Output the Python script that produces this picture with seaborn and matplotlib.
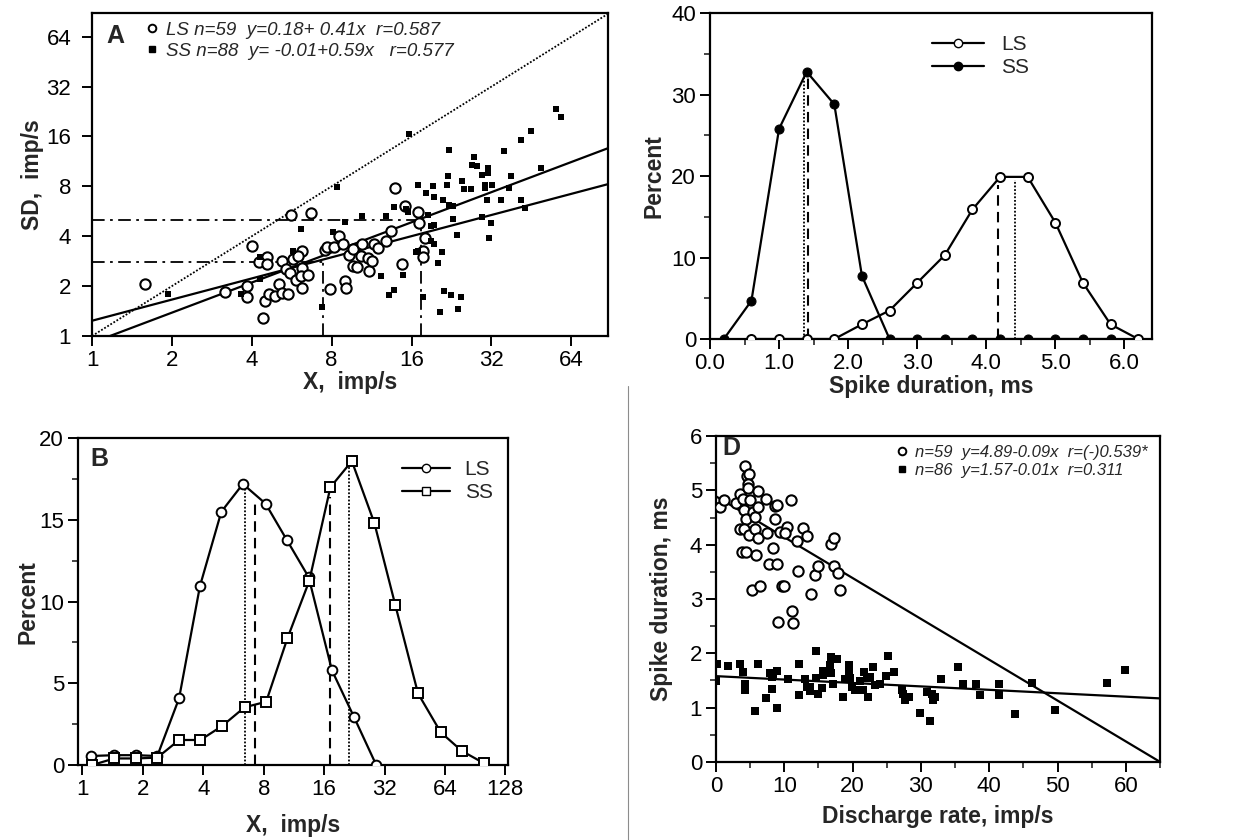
import numpy as np
import pandas as pd
import seaborn as sns
import matplotlib.pyplot as plt
from matplotlib.lines import Line2D
from matplotlib.ticker import FixedLocator, MultipleLocator, NullLocator, FormatStrFormatter

sns.set_theme(style='ticks')
plt.rcParams['font.family'] = ['Liberation Sans', 'DejaVu Sans']

# ---- panel A : SD vs mean rate (log2 / log2) ----
a_ls_x = [1.59, 3.17, 3.85, 3.83, 4.0, 4.4, 4.48, 4.63, 4.9, 4.55, 4.25, 4.55, 5.05, 5.22, 5.5,
          5.18, 5.4, 5.56, 5.7, 5.87, 5.6, 6.2, 6.2, 6.15, 6.5, 6.2, 6.7, 5.95, 7.86, 7.55,
          7.7, 8.2, 8.5, 8.8, 8.97, 9.1, 9.3, 9.65, 9.6, 10.0, 10.4, 10.3, 11.0, 11.1, 11.4,
          11.6, 12.0, 12.8, 13.4, 13.9, 14.7, 15.1, 16.9, 17.1, 18.0, 17.6, 17.6]
a_ls_sd = [2.06, 1.84, 2.0, 1.72, 3.48, 1.28, 1.62, 1.79, 1.74, 2.99, 2.79, 2.71, 2.06, 1.82, 1.79,
           2.83, 2.53, 2.39, 2.91, 2.17, 5.35, 3.25, 2.56, 2.3, 2.33, 1.94, 5.5, 3.03, 1.92, 3.29,
           3.43, 3.43, 4.0, 3.58, 2.14, 1.94, 3.07, 2.65, 3.34, 2.6, 3.58, 3.03, 2.95, 2.46, 2.83,
           3.58, 3.39, 3.74, 4.28, 7.8, 2.71, 6.06, 5.58, 4.8, 3.9, 3.25, 2.99]
a_ss_x = [1.93, 3.63, 4.29, 4.29, 6.15, 5.7, 7.35, 8.4, 8.1, 9.0, 10.4, 12.3, 12.8, 13.2, 13.8,
          13.8, 14.8, 15.3, 15.6, 22.1, 27.4, 27.0, 28.2, 31.0, 31.0, 29.6, 35.8, 41.3, 45.0, 56.0,
          58.5, 49.3, 37.9, 37.4, 41.3, 43.0, 34.8, 30.8, 29.6, 31.9, 31.4, 32.2, 30.2, 30.2, 26.9,
          25.3, 24.8, 21.7, 21.9, 19.2, 16.9, 18.2, 19.4, 21.0, 22.2, 23.0, 22.9, 23.7, 18.5, 19.0,
          19.4, 19.0, 19.4, 20.8, 20.1, 16.6, 16.9, 17.6, 21.2, 22.6, 24.6, 20.4, 24.0, 15.5]
a_ss_sd = [1.79, 1.79, 2.99, 2.2, 4.41, 3.25, 1.5, 7.9, 4.23, 4.85, 5.27, 2.3, 5.27, 1.77, 1.89,
           5.97, 2.33, 5.82, 16.5, 13.2, 12.0, 10.7, 10.6, 10.3, 9.6, 9.4, 13.0, 15.3, 17.3, 23.6,
           21.1, 10.3, 9.2, 7.8, 6.6, 5.9, 6.6, 6.6, 5.2, 4.8, 3.9, 8.2, 8.2, 7.8, 7.7,
           7.7, 8.6, 8.2, 9.2, 8.0, 8.1, 7.3, 6.9, 6.6, 6.2, 6.1, 5.06, 4.06, 5.35, 4.6,
           4.65, 3.74, 3.58, 3.2, 2.75, 3.2, 3.25, 1.72, 1.87, 1.77, 1.72, 1.39, 1.45, 5.6]
# fitted lines as drawn (log2 SD = b0 + b1 * log2 X)
a_ls_fit = (0.306, 0.424)
a_ss_fit = (-0.136, 0.604)
a_means_x = [7.4, 17.4]
a_means_sd = [2.8, 5.0]
a_ticks = [1, 2, 4, 8, 16, 32, 64]
a_lim = (1, 88)

# ---- panel B : rate distributions ----
b_ls_x = [1.1, 1.44, 1.84, 2.36, 3.03, 3.85, 4.92, 6.3, 8.17, 10.4, 13.4, 17.5, 22.5, 29.1]
b_ls_pct = [0.55, 0.6, 0.6, 0.55, 4.08, 10.95, 15.5, 17.2, 16.0, 13.8, 11.5, 5.8, 2.96, 0.0]
b_ss_x = [1.12, 1.44, 1.84, 2.36, 3.03, 3.87, 4.97, 6.42, 8.23, 10.5, 13.5, 17.2, 22.0, 28.5,
          36.2, 47.0, 61.0, 77.7, 100.4]
b_ss_pct = [0.0, 0.4, 0.4, 0.45, 1.53, 1.53, 2.39, 3.53, 3.87, 7.75, 11.27, 17.0, 18.6, 14.8,
            9.8, 4.38, 2.0, 0.86, 0.1]
b_mode_x = [6.44, 21.2]
b_mode_top = [17.2, 18.7]
b_mean_x = [7.22, 17.2]
b_mean_top = [16.1, 16.4]
b_ticks = [1, 2, 4, 8, 16, 32, 64, 128]

# ---- panel C : spike duration distributions ----
c_ls_x = [0.6, 1.0, 1.4, 1.8, 2.2, 2.6, 3.0, 3.4, 3.8, 4.2, 4.6, 5.0, 5.4, 5.8, 6.2]
c_ls_pct = [0, 0, 0, 0, 1.8, 3.5, 6.9, 10.3, 15.9, 19.9, 19.9, 14.3, 6.9, 1.8, 0]
c_ss_x = [0.2, 0.6, 1.0, 1.4, 1.8, 2.2, 2.6, 3.0, 3.4, 3.8, 4.2, 4.6, 5.0, 5.4, 5.8]
c_ss_pct = [0, 4.7, 25.8, 32.8, 28.8, 7.75, 0, 0, 0, 0, 0, 0, 0, 0, 0]
c_mode_x = [1.36, 4.41]
c_mode_top = [32.5, 19.5]
c_mean_x = [1.42, 4.17]
c_mean_top = [32.5, 18.9]

# ---- panel D : spike duration vs discharge rate ----
d_ls_rate = [0.6, 1.2, 3.0, 3.5, 4.2, 4.5, 4.9, 4.7, 4.7, 4.0, 5.0, 4.1, 4.4, 3.5, 4.1, 4.9, 5.7,
             5.4, 5.7, 6.1, 6.1, 6.2, 7.3, 7.5, 5.9, 3.8, 4.4, 8.3, 8.6, 8.9, 8.6, 7.7, 8.9, 9.4,
             10.4, 10.1, 11.0, 11.8, 12.8, 13.3, 12.0, 5.3, 6.5, 9.6, 9.9, 14.5, 15.0, 13.9, 9.1,
             11.1, 11.3, 16.8, 17.3, 17.3, 17.8, 18.1]
d_ls_dur = [4.69, 4.82, 4.77, 4.93, 5.44, 5.26, 5.30, 5.12, 5.04, 4.85, 4.82, 4.63, 4.47, 4.28,
            4.28, 4.18, 4.28, 4.61, 4.51, 4.69, 4.12, 4.98, 4.85, 4.22, 3.81, 3.87, 3.87, 3.94,
            4.71, 4.73, 4.47, 3.64, 3.64, 4.24, 4.32, 4.21, 4.82, 4.07, 4.30, 4.16, 3.52, 3.16,
            3.24, 3.24, 3.24, 3.44, 3.61, 3.10, 2.58, 2.78, 2.56, 4.01, 4.13, 3.61, 3.48, 3.16]
d_ss_rate = [0, 0.2, 1.8, 3.5, 4.0, 4.2, 4.2, 6.1, 5.7, 7.3, 7.9, 8.2, 8.2, 8.4, 9.0, 9.0, 10.5,
             12.2, 12.2, 13.1, 13.3, 13.8, 13.8, 14.6, 14.7, 14.9, 15.5, 15.7, 15.7, 16.7, 16.8,
             16.9, 17.1, 17.7, 18.6, 18.9, 19.4, 19.4, 19.6, 19.9, 20.3, 21.1, 21.5, 21.7, 22.1,
             22.3, 22.6, 23.0, 23.3, 24.0, 24.9, 25.2, 26.0, 27.2, 27.4, 27.7, 28.2, 29.8, 30.9,
             31.3, 31.6, 31.8, 32.1, 33.0, 35.5, 36.1, 38.1, 38.6, 41.5, 41.5, 43.7, 46.2, 49.7,
             57.3, 59.9]
d_ss_dur = [1.49, 1.80, 1.77, 1.80, 1.66, 1.44, 1.32, 1.80, 0.93, 1.17, 1.63, 1.57, 1.35, 1.62,
            1.68, 1.00, 1.52, 1.80, 1.23, 1.52, 1.38, 1.38, 1.31, 2.04, 1.55, 1.26, 1.37, 1.68,
            1.60, 1.78, 1.93, 1.63, 1.44, 1.89, 1.20, 1.52, 1.78, 1.68, 1.54, 1.38, 1.33, 1.49,
            1.33, 1.66, 1.54, 1.19, 1.57, 1.75, 1.41, 1.43, 1.58, 1.95, 1.66, 1.33, 1.25, 1.14,
            1.19, 0.90, 1.29, 0.75, 1.25, 1.14, 1.19, 1.52, 1.75, 1.43, 1.43, 1.24, 1.43, 1.24,
            0.88, 1.46, 0.95, 1.46, 1.70]
d_ls_fit = (4.89, -0.0752)
d_ss_fit = (1.58, -0.0063)
d_lim = (0, 65)

FS_TICK = 16
FS_LAB = 16.5
LW = 1.6
DASHDOT = (0, (7, 3, 1.5, 3))

fig = plt.figure(figsize=(12.5, 8.4), dpi=100)
axA = fig.add_axes([0.0736, 0.600, 0.4128, 0.3845])
axC = fig.add_axes([0.568, 0.5964, 0.3536, 0.388])
axB = fig.add_axes([0.0624, 0.0893, 0.344, 0.389])
axD = fig.add_axes([0.5728, 0.0929, 0.3552, 0.388])

for ax in (axA, axB, axC, axD):
    for s in ax.spines.values():
        s.set_linewidth(1.6)
        s.set_color('black')
    ax.tick_params(axis='both', which='major', direction='out', length=7, width=1.4,
                   labelsize=FS_TICK, colors='black', pad=3)
    ax.tick_params(axis='both', which='minor', direction='out', length=4, width=1.2)

# ---------------- A ----------------
ax = axA
ax.set_xscale('log', base=2)
ax.set_yscale('log', base=2)
sns.scatterplot(x=a_ls_x, y=a_ls_sd, ax=ax, marker='o', s=55, facecolor='white',
                edgecolor='black', linewidth=1.5, zorder=4)
sns.scatterplot(x=a_ss_x, y=a_ss_sd, ax=ax, marker='s', s=24, color='black',
                edgecolor='black', linewidth=0, zorder=4)
xs = np.array(a_lim, dtype=float)
ax.plot(xs, xs, color='black', ls=(0, (1, 1)), lw=1.3, zorder=3)
for b0, b1 in (a_ls_fit, a_ss_fit):
    yfit = 2 ** (b0 + b1 * np.log2(xs))
    sns.lineplot(x=xs, y=yfit, ax=ax, color='black', lw=LW, zorder=3)
for mx, msd in zip(a_means_x, a_means_sd):
    ax.plot([a_lim[0], mx], [msd, msd], color='black', lw=1.3, ls=DASHDOT, zorder=2)
    ax.plot([mx, mx], [a_lim[0], msd], color='black', lw=1.3, ls=DASHDOT, zorder=2)
ax.set_xlim(*a_lim)
ax.set_ylim(1, 89)
ax.xaxis.set_major_locator(FixedLocator(a_ticks))
ax.yaxis.set_major_locator(FixedLocator(a_ticks))
ax.xaxis.set_minor_locator(NullLocator())
ax.yaxis.set_minor_locator(NullLocator())
ax.set_xticklabels([str(t) for t in a_ticks])
ax.set_yticklabels([str(t) for t in a_ticks])
ax.tick_params(axis='y', pad=8)
ax.set_xlabel('X,  imp/s', fontsize=FS_LAB, fontweight='bold', labelpad=0)
ax.set_ylabel('SD,  imp/s', fontsize=FS_LAB, fontweight='bold', labelpad=2)
ax.text(0.028, 0.93, 'A', transform=ax.transAxes, fontsize=18, fontweight='bold', va='center')
hA = [Line2D([], [], ls='none', marker='o', ms=5.5, mfc='white', mec='black', mew=1.4),
      Line2D([], [], ls='none', marker='s', ms=4.5, color='black')]
ax.legend(hA, ['LS n=59  y=0.18+ 0.41x  r=0.587', 'SS n=88  y= -0.01+0.59x   r=0.577'],
          loc='upper left', bbox_to_anchor=(0.07, 1.025), frameon=False, handlelength=0.8,
          handletextpad=0.3, labelspacing=0.2, prop={'style': 'italic', 'size': 13.5})

# ---------------- B ----------------
ax = axB
ax.set_xscale('log', base=2)
sns.lineplot(x=b_ls_x, y=b_ls_pct, ax=ax, color='black', lw=LW, marker='o', ms=7,
             mfc='white', mec='black', mew=1.4, sort=False, estimator=None, zorder=4)
sns.lineplot(x=b_ss_x, y=b_ss_pct, ax=ax, color='black', lw=LW, marker='s', ms=7,
             mfc='white', mec='black', mew=1.4, sort=False, estimator=None, zorder=4)
ax.vlines(b_mode_x, 0, b_mode_top, colors='black', linestyles=(0, (1, 1)), lw=1.3)
ax.vlines(b_mean_x, 0, b_mean_top, colors='black', linestyles=(0, (5, 3)), lw=1.5)
ax.set_xlim(0.95, 132)
ax.set_ylim(0, 20)
ax.xaxis.set_major_locator(FixedLocator(b_ticks))
ax.xaxis.set_minor_locator(NullLocator())
ax.set_xticklabels([str(t) for t in b_ticks])
ax.yaxis.set_major_locator(MultipleLocator(5))
ax.yaxis.set_minor_locator(MultipleLocator(2.5))
ax.set_xlabel('X,  imp/s', fontsize=FS_LAB, fontweight='bold', labelpad=10)
ax.set_ylabel('Percent', fontsize=FS_LAB, fontweight='bold', labelpad=0)
ax.text(0.028, 0.935, 'B', transform=ax.transAxes, fontsize=18, fontweight='bold', va='center')
hB = [Line2D([], [], color='black', lw=LW, marker='o', ms=6, mfc='white', mec='black'),
      Line2D([], [], color='black', lw=LW, marker='s', ms=6, mfc='white', mec='black')]
ax.legend(hB, ['LS', 'SS'], loc='upper left', bbox_to_anchor=(0.71, 0.99), frameon=False,
          handlelength=2.3, handletextpad=0.7, labelspacing=0.2, fontsize=15)

# ---------------- C ----------------
ax = axC
sns.lineplot(x=c_ls_x, y=c_ls_pct, ax=ax, color='black', lw=LW, marker='o', ms=6.5,
             mfc='white', mec='black', mew=1.4, sort=False, estimator=None, zorder=3)
sns.lineplot(x=c_ss_x, y=c_ss_pct, ax=ax, color='black', lw=LW, marker='o', ms=6.5,
             mfc='black', mec='black', sort=False, estimator=None, zorder=4)
ax.vlines(c_mode_x, 0, c_mode_top, colors='black', linestyles=(0, (1, 1)), lw=1.3)
ax.vlines(c_mean_x, 0, c_mean_top, colors='black', linestyles=(0, (5, 3)), lw=1.5)
ax.set_xlim(0, 6.4)
ax.set_ylim(0, 40)
ax.xaxis.set_major_locator(MultipleLocator(1))
ax.xaxis.set_minor_locator(MultipleLocator(0.5))
ax.xaxis.set_major_formatter(FormatStrFormatter('%.1f'))
ax.yaxis.set_major_locator(MultipleLocator(10))
ax.yaxis.set_minor_locator(MultipleLocator(5))
ax.set_xlabel('Spike duration, ms', fontsize=FS_LAB, fontweight='bold', labelpad=1)
ax.set_ylabel('Percent', fontsize=FS_LAB, fontweight='bold', labelpad=4)
hC = [Line2D([], [], color='black', lw=LW, marker='o', ms=6, mfc='white', mec='black'),
      Line2D([], [], color='black', lw=LW, marker='o', ms=6, mfc='black', mec='black')]
ax.legend(hC, ['LS', 'SS'], loc='upper left', bbox_to_anchor=(0.46, 0.99), frameon=False,
          handlelength=2.5, handletextpad=0.8, labelspacing=0.2, fontsize=15)

# ---------------- D ----------------
ax = axD
sns.scatterplot(x=d_ls_rate, y=d_ls_dur, ax=ax, marker='o', s=55, facecolor='white',
                edgecolor='black', linewidth=1.5, zorder=4)
sns.scatterplot(x=d_ss_rate, y=d_ss_dur, ax=ax, marker='s', s=26, color='black',
                edgecolor='black', linewidth=0, zorder=4)
xd = np.array(d_lim, dtype=float)
for b0, b1 in (d_ls_fit, d_ss_fit):
    sns.lineplot(x=xd, y=b0 + b1 * xd, ax=ax, color='black', lw=LW, zorder=3)
ax.set_xlim(*d_lim)
ax.set_ylim(0, 6)
ax.xaxis.set_major_locator(MultipleLocator(10))
ax.xaxis.set_minor_locator(MultipleLocator(5))
ax.yaxis.set_major_locator(MultipleLocator(1))
ax.yaxis.set_minor_locator(MultipleLocator(0.5))
ax.set_xlabel('Discharge rate, imp/s', fontsize=FS_LAB, fontweight='bold', labelpad=6)
ax.set_ylabel('Spike duration, ms', fontsize=FS_LAB, fontweight='bold', labelpad=12)
ax.text(0.014, 0.962, 'D', transform=ax.transAxes, fontsize=18, fontweight='bold', va='center')
hD = [Line2D([], [], ls='none', marker='o', ms=5.5, mfc='white', mec='black', mew=1.4),
      Line2D([], [], ls='none', marker='s', ms=4.5, color='black')]
ax.legend(hD, ['n=59  y=4.89-0.09x  r=(-)0.539*', 'n=86  y=1.57-0.01x  r=0.311'],
          loc='upper left', bbox_to_anchor=(0.37, 1.02), frameon=False, handlelength=0.8,
          handletextpad=0.4, labelspacing=0.2, prop={'style': 'italic', 'size': 12})

# page fold line of the scan
fig.add_artist(Line2D([0.5024, 0.5024], [0.0, 0.54], transform=fig.transFigure,
                      color='0.55', lw=0.8))

fig.savefig('out.png', dpi=100, facecolor='white')
